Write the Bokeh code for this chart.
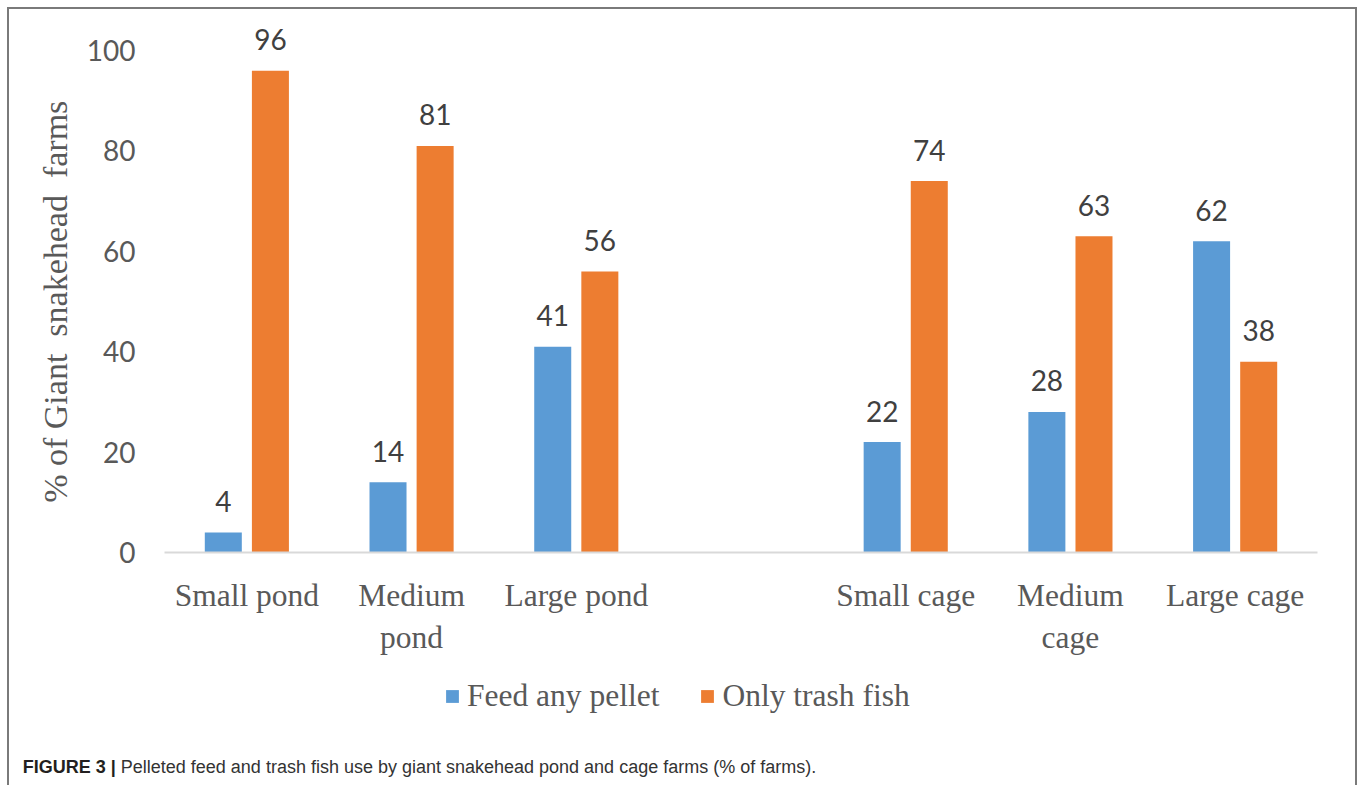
from bokeh.plotting import figure
from bokeh.models import (ColumnDataSource, Legend, LegendItem, FixedTicker, Range1d, Div)
from bokeh.layouts import column
from bokeh.transform import dodge
from bokeh.core.properties import value
from bokeh.embed import file_html
from bokeh.resources import INLINE

# ---- data ----
categories = ["Small pond", "Medium\npond", "Large pond", "", "Small cage", "Medium\ncage", "Large cage"]
pellet = [4, 14, 41, None, 22, 28, 62]
trash = [96, 81, 56, None, 74, 63, 38]
series_names = ["Feed any pellet", "Only trash fish"]
y_ticks = [0, 20, 40, 60, 80, 100]
y_title = "% of Giant\u00a0\u00a0snakehead\u00a0\u00a0farms\u00a0\u00a0\u00a0"
caption_bold = "FIGURE 3 |"
caption_text = "Pelleted feed and trash fish use by giant snakehead pond and cage farms (% of farms)."

BLUE = "#5B9BD5"
ORANGE = "#ED7D31"
GRAY = "#595959"

idx = [i for i, c in enumerate(categories) if c != ""]
src = ColumnDataSource(dict(
    x=[i + 0.5 for i in idx],
    pellet=[pellet[i] for i in idx],
    trash=[trash[i] for i in idx],
    pellet_lbl=[str(pellet[i]) for i in idx],
    trash_lbl=[str(trash[i]) for i in idx],
))

# page origin of the chart figure is (9, 9) because of the outer border box
p = figure(width=1346, height=651, x_range=Range1d(0, len(categories)), y_range=Range1d(0, 105),
           output_backend="svg", toolbar_location=None,
           min_border_left=155, min_border_right=38, min_border_top=16, min_border_bottom=108)
p.outline_line_color = None
p.xgrid.visible = False
p.ygrid.visible = False
p.background_fill_color = "white"
p.border_fill_color = "white"

bw = 0.2247
off = 0.143
r1 = p.vbar(x=dodge("x", -off, range=p.x_range), top="pellet", width=bw, source=src,
            fill_color=BLUE, line_color=None)
r2 = p.vbar(x=dodge("x", off, range=p.x_range), top="trash", width=bw, source=src,
            fill_color=ORANGE, line_color=None)

for col, o in (("pellet", -off), ("trash", off)):
    p.text(x=dodge("x", o, range=p.x_range), y=col, text=col + "_lbl", source=src,
           text_align="center", text_baseline="alphabetic", y_offset=-31,
           text_font=value("Lato"), text_font_size="28px", text_color="#404040")

# x axis
p.xaxis.ticker = FixedTicker(ticks=[i + 0.5 for i in idx])
p.xaxis.major_label_overrides = {i + 0.5: categories[i] for i in idx}
p.xaxis.axis_line_color = "#d9d9d9"
p.xaxis.axis_line_width = 2
p.xaxis.major_tick_line_color = None
p.xaxis.minor_tick_line_color = None
p.xaxis.major_label_text_font = "Liberation Serif"
p.xaxis.major_label_text_font_size = "31.5px"
p.xaxis.major_label_text_color = GRAY
p.xaxis.major_label_standoff = 19

# y axis
p.yaxis.ticker = FixedTicker(ticks=y_ticks)
p.yaxis.axis_line_color = None
p.yaxis.major_tick_line_color = None
p.yaxis.minor_tick_line_color = None
p.yaxis.major_label_text_font = "Lato"
p.yaxis.major_label_text_font_size = "28px"
p.yaxis.major_label_text_color = GRAY
p.yaxis.major_label_standoff = 23
p.yaxis.axis_label = y_title
p.yaxis.axis_label_text_font = "Liberation Serif"
p.yaxis.axis_label_text_font_size = "34px"
p.yaxis.axis_label_text_font_style = "normal"
p.yaxis.axis_label_text_color = GRAY
p.yaxis.axis_label_standoff = 10

# legend strip (its own small frame, so that nothing is clipped)
pl = figure(width=1346, height=70, x_range=Range1d(0, 1), y_range=Range1d(0, 1),
            output_backend="svg", toolbar_location=None, min_border=0,
            x_axis_location=None, y_axis_location=None)
pl.outline_line_color = None
pl.xgrid.visible = False
pl.ygrid.visible = False
# swatch renderers of zero height; only their legend glyphs show
lr1 = pl.vbar(x=[0.5], top=[0], bottom=[0], width=0.1, fill_color=BLUE, line_color=None)
lr2 = pl.vbar(x=[0.5], top=[0], bottom=[0], width=0.1, fill_color=ORANGE, line_color=None)
legend = Legend(items=[LegendItem(label=series_names[0], renderers=[lr1]),
                       LegendItem(label=series_names[1], renderers=[lr2])],
                orientation="horizontal", location=(280, 16.5),
                glyph_width=16, glyph_height=16, label_standoff=7, spacing=40,
                label_text_font="Liberation Serif", label_text_font_size="31.5px",
                label_text_color=GRAY, label_height=36, padding=0, margin=0,
                border_line_color=None, background_fill_alpha=0)
pl.add_layout(legend, "center")

cap = Div(text=('<div style="padding:21.5px 0 0 8.7px; white-space:nowrap; '
                'font-family:\'Liberation Sans\', Arial, sans-serif; font-size:18px; line-height:20px;">'
                '<span style="font-weight:bold; color:#231f20;">' + caption_bold + '</span> '
                '<span style="color:#333333;">' + caption_text + '</span></div>'),
          width=1346, height=53)

layout = column(p, pl, cap, spacing=0, width=1350,
                styles={"margin-left": "7px", "margin-top": "7px",
                        "border-left": "2px solid #7a7a7a", "border-right": "2px solid #7a7a7a",
                        "border-top": "2px solid #7a7a7a", "background-color": "white"})

open("out.html", "w").write(file_html(layout, INLINE))
